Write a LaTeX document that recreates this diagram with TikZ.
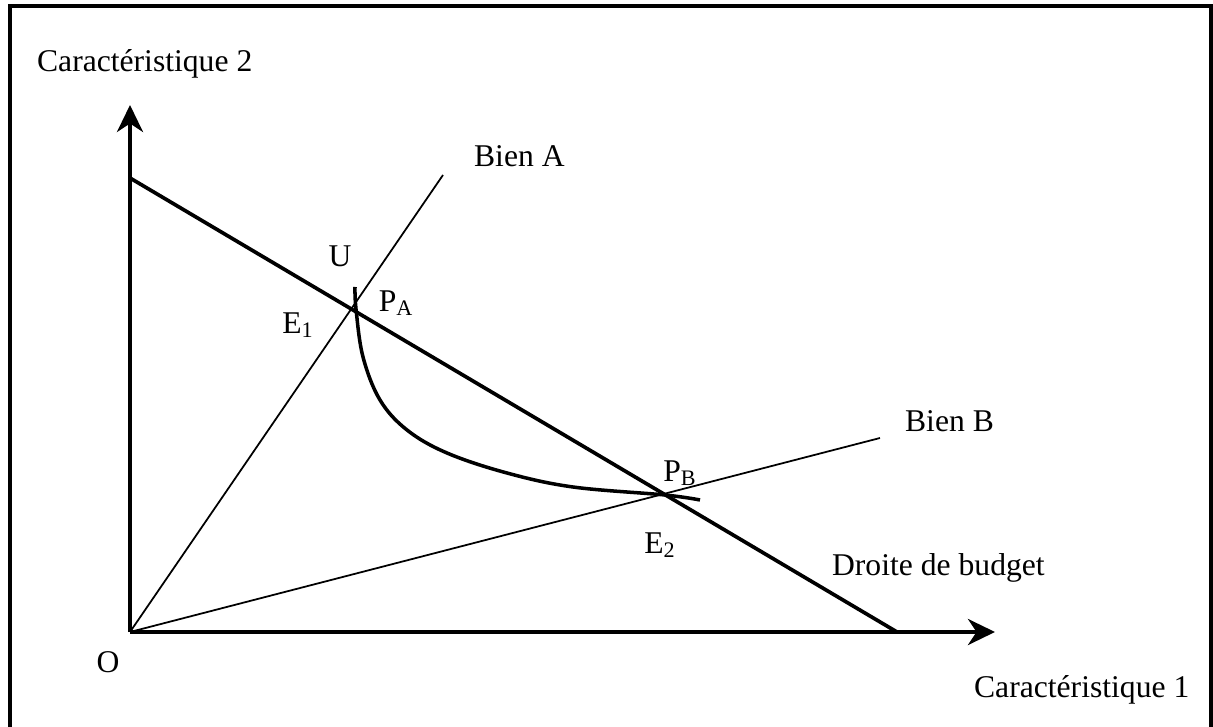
\documentclass[tikz,border=0pt]{standalone}
\usepackage{fontspec}
\setmainfont{Liberation Serif}
\usetikzlibrary{arrows.meta}
\tikzset{
  axis/.style={line width=2.3pt, -{Stealth[length=5.4mm,width=5.2mm,inset=1.7mm]}},
  budget/.style={line width=2.1pt},
  ray/.style={line width=1pt},
  lbl/.style={inner sep=1pt, font=\fontsize{18}{21}\selectfont}
}
\begin{document}
\begin{tikzpicture}
  \useasboundingbox (0,0) rectangle (24.26,14.52);
  \draw[line width=2pt] (0.2,-0.5) rectangle (24.22,14.4);
  \coordinate (O) at (2.6,1.88);
  \coordinate (Ytip) at (2.6,12.42);
  \coordinate (Xtip) at (19.9,1.88);
  \coordinate (Btop) at (2.6,10.96);
  \coordinate (Bend) at (17.94,1.88);
  \coordinate (RA) at (8.86,11.02);
  \coordinate (RB) at (17.6,5.76);
  \draw[ray] (O) -- (RA);
  \draw[ray] (O) -- (RB);
  \draw[budget] (Btop) -- (Bend);
  \draw[axis] (O) -- (Ytip);
  \draw[axis] (O) -- (Xtip);
  \draw[line width=2pt] plot[smooth, tension=0.6] coordinates
    {(7.10,8.78) (7.12,8.34) (7.26,7.38) (7.60,6.52) (8.14,5.92) (8.94,5.46)
     (10.14,5.06) (11.46,4.78) (13.30,4.62) (14.00,4.52)};
  \node[lbl, anchor=base west] (c2) at (0.70,13.08) {Caractéristique 2};
  \node[lbl, anchor=base west] (c1) at (19.44,0.58) {Caractéristique 1};
  \node[lbl, anchor=base west] (bienA) at (9.44,11.18) {Bien A};
  \node[lbl, anchor=base west] (bienB) at (18.06,5.88) {Bien B};
  \node[lbl] (U) at (6.80,9.40) {U};
  \node[lbl] (pa) at (7.92,8.46) {P\textsubscript{A}};
  \node[lbl] (e1) at (5.96,8.02) {E\textsubscript{1}};
  \node[lbl] (pb) at (13.60,5.06) {P\textsubscript{B}};
  \node[lbl] (e2) at (13.20,3.62) {E\textsubscript{2}};
  \node[lbl, anchor=base west] (droite) at (16.6,3.02) {Droite de budget};
  \node[lbl] (o) at (2.16,1.28) {O};
\end{tikzpicture}
\end{document}
